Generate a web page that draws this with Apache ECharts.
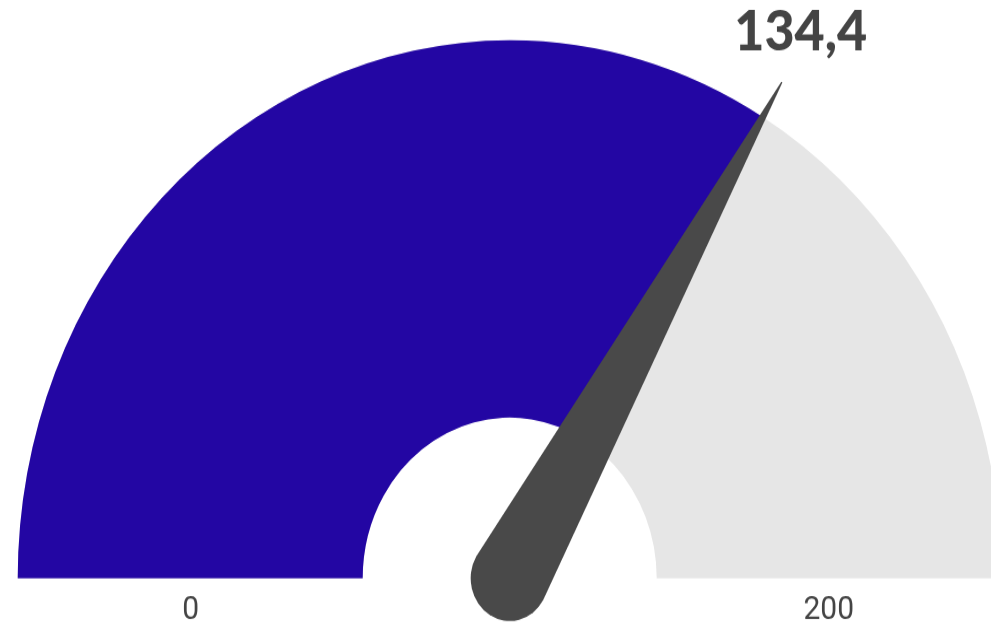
<!DOCTYPE html>
<html>
<head>
<meta charset="utf-8">
<script src="https://cdn.jsdelivr.net/npm/echarts@6/dist/echarts.min.js"></script>
<style>
html,body{margin:0;padding:0;background:#fff;overflow:hidden;width:991px;height:631px;}
#wrap{width:991px;height:631px;overflow:hidden;position:relative;}
#chart{width:991px;height:577px;transform-origin:0 0;transform:scaleY(1.0936);}
</style>
</head>
<body>
<div id="wrap"><div id="chart"></div></div>
<script>
// Data
const gaugeValues = [134.4];
const axisMin = 0;
const axisMax = 200;
const tickLabels = ['0', '200'];

const chart = echarts.init(document.getElementById('chart'), null, {renderer: 'canvas'});
const R = 492;
const inner = 147;
const centerPos = [509.7, 528.8];
const option = {
  animation: false,
  series: [{
    type: 'gauge',
    z: 2,
    startAngle: 180,
    endAngle: 0,
    min: axisMin,
    max: axisMax,
    splitNumber: tickLabels.length - 1,
    center: centerPos,
    radius: R,
    axisLine: {
      roundCap: false,
      lineStyle: { width: R - inner, color: [[1, '#E6E6E6']] }
    },
    progress: {
      show: true,
      width: R - inner,
      roundCap: false,
      itemStyle: { color: '#2306A3' }
    },
    pointer: { show: false },
    anchor: { show: false },
    axisTick: { show: false },
    splitLine: { show: false, length: 0, distance: 0 },
    axisLabel: {
      show: true,
      distance: R - 319,
      rotate: 360,
      color: '#444',
      fontFamily: 'Roboto',
      fontSize: 30,
      lineHeight: 60,
      formatter: function (v) {
        const i = Math.round((v - axisMin) / (axisMax - axisMin) * (tickLabels.length - 1));
        return '\n' + tickLabels[i];
      }
    },
    title: { show: false },
    detail: { show: false },
    data: gaugeValues.map(function (v) { return { value: v }; })
  }, {
    type: 'gauge',
    z: 5,
    startAngle: 180,
    endAngle: 0,
    min: axisMin,
    max: axisMax,
    center: centerPos,
    radius: R,
    axisLine: { show: false },
    progress: { show: false },
    pointer: {
      show: true,
      icon: 'path://M38.4 0 L39.6 0 L78 529 A39 39 0 0 1 0 529 Z',
      width: 78,
      length: 568,
      offsetCenter: [0, 39],
      itemStyle: { color: '#494949' }
    },
    anchor: { show: false },
    axisTick: { show: false },
    splitLine: { show: false },
    axisLabel: { show: false },
    title: { show: false },
    detail: {
      show: true,
      offsetCenter: [291, -500],
      color: '#444',
      fontFamily: 'Lato',
      fontWeight: 900,
      fontSize: 52,
      formatter: function (v) { return v.toFixed(1).replace('.', ','); }
    },
    data: gaugeValues.map(function (v) { return { value: v }; })
  }]
};
chart.setOption(option);
</script>
</body>
</html>
